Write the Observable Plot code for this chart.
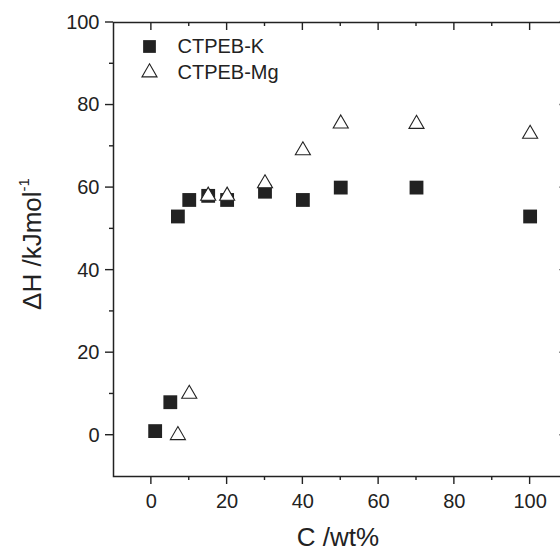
<!DOCTYPE html>
<html><head><meta charset="utf-8">
<script src="https://cdn.jsdelivr.net/npm/d3@7"></script>
<script src="https://cdn.jsdelivr.net/npm/@observablehq/plot@0.6"></script>
<style>
html,body{margin:0;padding:0;background:#fff;}
</style></head><body><div id="chart"></div>
<script>
const seriesNames = ["CTPEB-K", "CTPEB-Mg"];
const kConc = [1, 5, 7, 10, 15, 20, 30, 40, 50, 70, 100];
const kDH   = [1, 8, 53, 57, 58, 57, 59, 57, 60, 60, 53];
const mgConc = [7, 10, 15, 20, 30, 40, 50, 70, 100];
const mgDH   = [0, 10, 58, 58, 61, 69, 75.5, 75.4, 73];
const xMajor = [0, 20, 40, 60, 80, 100];
const xMinor = [10, 30, 50, 70, 90];
const yMajor = [0, 20, 40, 60, 80, 100];
const yMinor = [10, 30, 50, 70, 90];
const xLabel = "C /wt%";
const yLabelMain = "\u0394H /kJmol";
const yLabelSup = "-1";

const kData = kConc.map((c, i) => ({c, v: kDH[i]}));
const mgData = mgConc.map((c, i) => ({c, v: mgDH[i]}));

const ink = "#222";
const font = "'Liberation Sans', Arial, Helvetica, sans-serif";
const W = 560, H = 550, mL = 113, mR = -7.5, mT = 22, mB = 74;

const svg = Plot.plot({
  width: W, height: H,
  marginLeft: mL, marginRight: mR, marginTop: mT, marginBottom: mB,
  style: {fontFamily: font},
  x: {domain: [-10, 110], label: null},
  y: {domain: [-10, 100], label: null},
  marks: [
    Plot.axisX(xMajor, {anchor: "bottom", tickSize: 0, tickPadding: 17, fontSize: 20, label: null, fill: ink}),
    Plot.axisY(yMajor, {anchor: "left", tickSize: 0, tickPadding: 14, fontSize: 20, label: null, fill: ink}),
    Plot.frame({stroke: ink, strokeWidth: 1.5}),
    Plot.dot(kData, {x: "c", y: "v", symbol: "square", r: 7.8, fill: ink, stroke: null}),
    Plot.dot(mgData, {x: "c", y: "v", symbol: "triangle", r: 5.6, fill: "white", stroke: ink, strokeWidth: 1.1}),
    Plot.dot([seriesNames[0]], {x: null, y: null, frameAnchor: "top-left", dx: 36, dy: 24, symbol: "square", r: 7.2, fill: ink, stroke: null}),
    Plot.dot([seriesNames[1]], {x: null, y: null, frameAnchor: "top-left", dx: 36, dy: 50, symbol: "triangle", r: 5.6, fill: "white", stroke: ink, strokeWidth: 1.1}),
    Plot.text([seriesNames[0]], {x: null, y: null, text: d => d, frameAnchor: "top-left", dx: 64, dy: 24, textAnchor: "start", lineAnchor: "middle", fontSize: 20, fill: ink}),
    Plot.text([seriesNames[1]], {x: null, y: null, text: d => d, frameAnchor: "top-left", dx: 64, dy: 50, textAnchor: "start", lineAnchor: "middle", fontSize: 20, fill: ink})
  ]
});

// tick marks through Plot's own scales
const xs = svg.scale("x"), ys = svg.scale("y");
const [xLeft, xRight] = xs.range;
const [yBottom, yTop] = ys.range;
const s = d3.select(svg);
const tg = s.append("g").attr("stroke", ink).attr("stroke-width", 1.4).attr("fill", "none");
function xTicks(vals, len) {
  vals.forEach(v => {
    const px = xs.apply(v);
    tg.append("line").attr("x1", px).attr("x2", px).attr("y1", yBottom).attr("y2", yBottom + len);
    tg.append("line").attr("x1", px).attr("x2", px).attr("y1", yTop).attr("y2", yTop + len);
  });
}
function yTicks(vals, len) {
  vals.forEach(v => {
    const py = ys.apply(v);
    tg.append("line").attr("x1", xLeft - len).attr("x2", xLeft).attr("y1", py).attr("y2", py);
    tg.append("line").attr("x1", xRight - len).attr("x2", xRight).attr("y1", py).attr("y2", py);
  });
}
xTicks(xMajor, 8); xTicks(xMinor, 4);
yTicks(yMajor, 8); yTicks(yMinor, 4);

s.append("text")
  .attr("x", 338).attr("y", 546)
  .attr("text-anchor", "middle")
  .attr("font-size", 26).attr("fill", ink).attr("font-family", font)
  .text(xLabel);

const yl = s.append("text")
  .attr("transform", "translate(40.5,244) rotate(-90)")
  .attr("text-anchor", "middle")
  .attr("font-size", 26).attr("fill", ink).attr("font-family", font);
yl.append("tspan").text(yLabelMain);
yl.append("tspan").attr("dy", "-0.75em").attr("font-size", 15).text(yLabelSup);

document.getElementById("chart").appendChild(svg);
</script></body></html>
